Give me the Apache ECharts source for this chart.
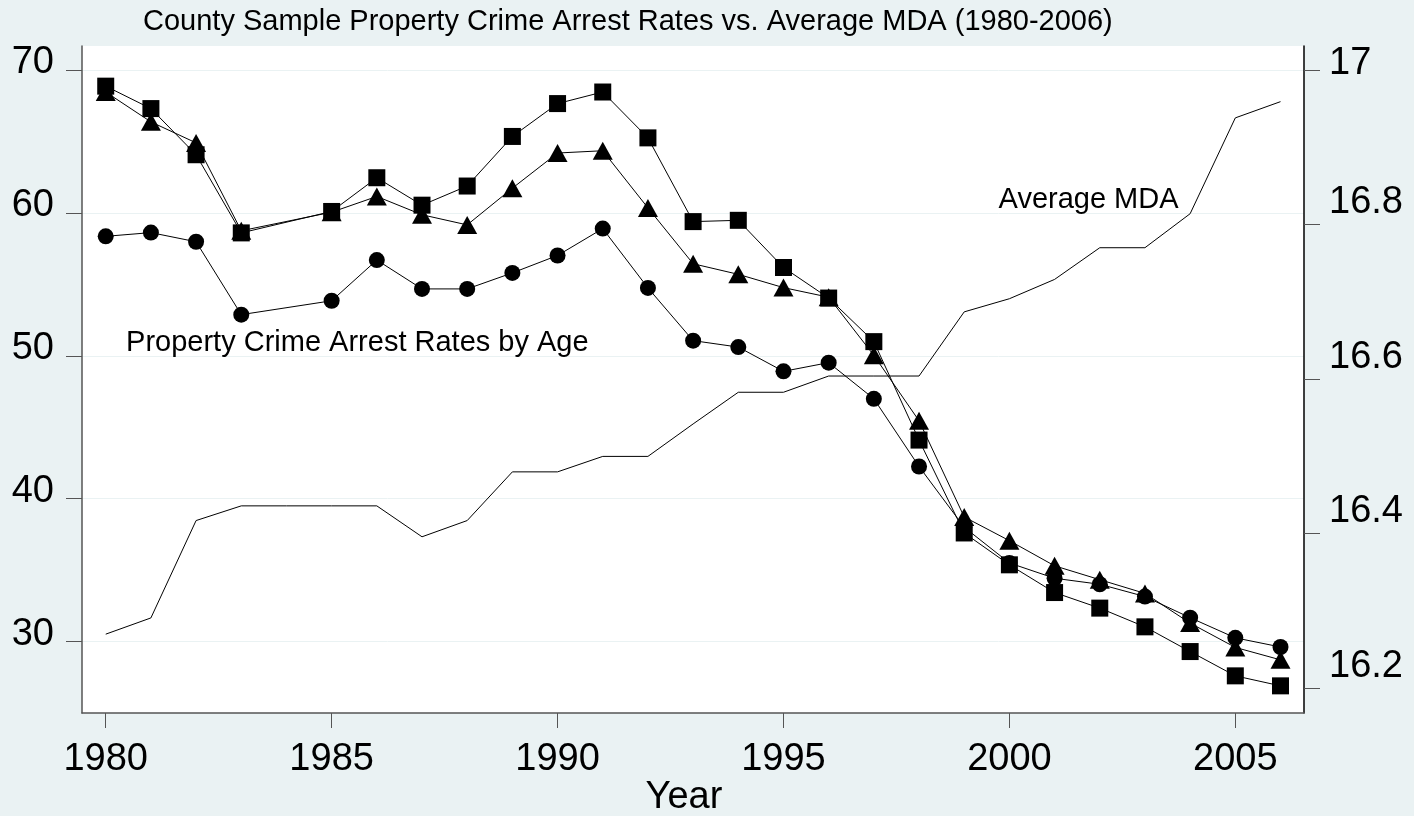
<!DOCTYPE html>
<html>
<head>
<meta charset="utf-8">
<title>County Sample Property Crime Arrest Rates vs. Average MDA</title>
<script src="https://cdn.jsdelivr.net/npm/echarts@6/dist/echarts.min.js"></script>
<style>
  html, body { margin: 0; padding: 0; background: #eaf2f3; }
  #chart { width: 1414px; height: 816px; }
</style>
</head>
<body>
<div id="chart"></div>
<script>
// data (1984 has no arrest-rate point)
const years = [1980, 1981, 1982, 1983, 1984, 1985, 1986, 1987, 1988, 1989, 1990, 1991, 1992, 1993,
  1994, 1995, 1996, 1997, 1998, 1999, 2000, 2001, 2002, 2003, 2004, 2005, 2006]
const circleRates = [58.36, 58.62, 57.98, 52.88, null, 53.85, 56.7, 54.68, 54.68, 55.8, 57.02, 58.9, 54.75, 51.06,
  50.61, 48.91, 49.52, 46.99, 42.25, 38.0, 35.5, 34.43, 34.01, 33.15, 31.67, 30.26, 29.62]
const triangleRates = [68.46, 66.37, 64.9, 58.75, null, 60.05, 61.15, 59.87, 59.16, 61.73, 64.19, 64.35, 60.35, 56.44,
  55.7, 54.77, 54.1, 50.03, 45.45, 38.72, 37.06, 35.3, 34.33, 33.37, 31.29, 29.59, 28.72]
const squareRates = [68.87, 67.3, 64.07, 58.6, null, 60.1, 62.46, 60.54, 61.88, 65.35, 67.65, 68.46, 65.25, 59.39,
  59.48, 56.18, 54.04, 50.99, 44.1, 37.6, 35.37, 33.43, 32.34, 31.03, 29.3, 27.6, 26.9]
const averageMDA = [16.270, 16.291, 16.417, 16.436, 16.436, 16.436, 16.436, 16.396, 16.417, 16.480, 16.480, 16.500,
  16.500, 16.542, 16.583, 16.583, 16.604, 16.604, 16.604, 16.687, 16.704, 16.729, 16.770, 16.770, 16.814, 16.938, 16.959]

const yearTicks = [1980, 1985, 1990, 1995, 2000, 2005]
const rateTicks = [30, 40, 50, 60, 70]
const mdaTicks = [16.2, 16.4, 16.6, 16.8, 17]

const font = 'Liberation Sans, Arial, sans-serif'
const axisGrey = '#555'

function pairs(values) {
  return years.map((y, i) => [y, values[i]])
}

function rateSeries(name, symbol, size, values) {
  return {
    name: name,
    type: 'line',
    yAxisIndex: 0,
    data: pairs(values),
    connectNulls: true,
    symbol: symbol,
    symbolSize: size,
    showAllSymbol: true,
    lineStyle: { color: '#000', width: 1 },
    itemStyle: { color: '#000', borderWidth: 0 }
  }
}

// tick labels sit a little above their ticks: an empty second line pushes them up
const labelRich = {
  t: { fontFamily: font, fontSize: 38, color: '#000', lineHeight: 40 },
  s14: { fontSize: 2, lineHeight: 14 },
  s12: { fontSize: 2, lineHeight: 12 },
  s44: { fontSize: 2, lineHeight: 44 }
}

const chart = echarts.init(document.getElementById('chart'))

chart.setOption({
  animation: false,
  backgroundColor: '#eaf2f3',
  title: {
    text: 'County Sample Property Crime Arrest Rates vs. Average MDA (1980-2006)',
    left: 143,
    top: 7,
    padding: 0,
    textStyle: { fontFamily: font, fontSize: 29, fontWeight: 'normal', color: '#000' }
  },
  grid: {
    left: 82,
    right: 110,
    top: 46,
    bottom: 103,
    outerBoundsMode: 'none',
    show: true,
    backgroundColor: '#fff',
    borderWidth: 0
  },
  xAxis: {
    type: 'value',
    min: 1979.475,
    max: 2006.52,
    name: 'Year',
    nameLocation: 'middle',
    nameGap: 66,
    nameMoveOverlap: false,
    nameTextStyle: { fontFamily: font, fontSize: 38, color: '#000', padding: [0, 18, 0, 0] },
    axisLine: { show: true, onZero: false, lineStyle: { color: axisGrey, width: 1.5 } },
    axisTick: { show: true, length: 15, customValues: yearTicks, lineStyle: { color: axisGrey } },
    axisLabel: {
      customValues: yearTicks,
      margin: 28,
      fontFamily: font,
      fontSize: 38,
      color: '#000',
      formatter: v => String(v)
    },
    splitLine: { show: false }
  },
  yAxis: [{
    type: 'value',
    position: 'left',
    min: 25,
    max: 71.68,
    axisLine: { show: true, lineStyle: { color: axisGrey, width: 1.5 } },
    axisTick: { show: true, length: 16, customValues: rateTicks, lineStyle: { color: axisGrey } },
    axisLabel: {
      customValues: rateTicks,
      margin: 28,
      formatter: v => '{t|' + v + '}\n{s14| }',
      rich: labelRich
    },
    splitLine: { show: true, lineStyle: { color: '#eaf2f3', width: 1 } }
  }, {
    type: 'value',
    position: 'right',
    min: 16.168,
    max: 17.031,
    axisLine: { show: true, lineStyle: { color: '#000', width: 1.5 } },
    axisTick: { show: true, length: 16, customValues: mdaTicks, lineStyle: { color: axisGrey } },
    axisLabel: {
      customValues: mdaTicks,
      margin: 25,
      // the top label keeps close to its tick, the others ride higher
      formatter: v => '{t|' + (v === 17 ? '17' : v.toFixed(1)) + '}\n{' + (v === 17 ? 's12' : 's44') + '| }',
      rich: labelRich
    },
    splitLine: { show: false }
  }],
  series: [
    rateSeries('Rate (circle)', 'circle', 16, circleRates),
    rateSeries('Rate (triangle)', 'triangle', [20, 18], triangleRates),
    rateSeries('Rate (square)', 'rect', 17, squareRates),
    {
      name: 'Average MDA',
      type: 'line',
      yAxisIndex: 1,
      data: pairs(averageMDA),
      symbol: 'none',
      lineStyle: { color: '#000', width: 1 }
    }
  ]
})

// text labels inside the plot, placed in data coordinates
const rateLabelPos = chart.convertToPixel({ xAxisIndex: 0, yAxisIndex: 0 }, [1980.45, 50.9])
const mdaLabelPos = chart.convertToPixel({ xAxisIndex: 0, yAxisIndex: 1 }, [1999.76, 16.832])
chart.setOption({
  graphic: [{
    type: 'text',
    x: rateLabelPos[0],
    y: rateLabelPos[1],
    style: { text: 'Property Crime Arrest Rates by Age', font: '29px ' + font, fill: '#000', verticalAlign: 'middle' }
  }, {
    type: 'text',
    x: mdaLabelPos[0],
    y: mdaLabelPos[1],
    style: { text: 'Average MDA', font: '29px ' + font, fill: '#000', verticalAlign: 'middle' }
  }]
})
</script>
</body>
</html>
